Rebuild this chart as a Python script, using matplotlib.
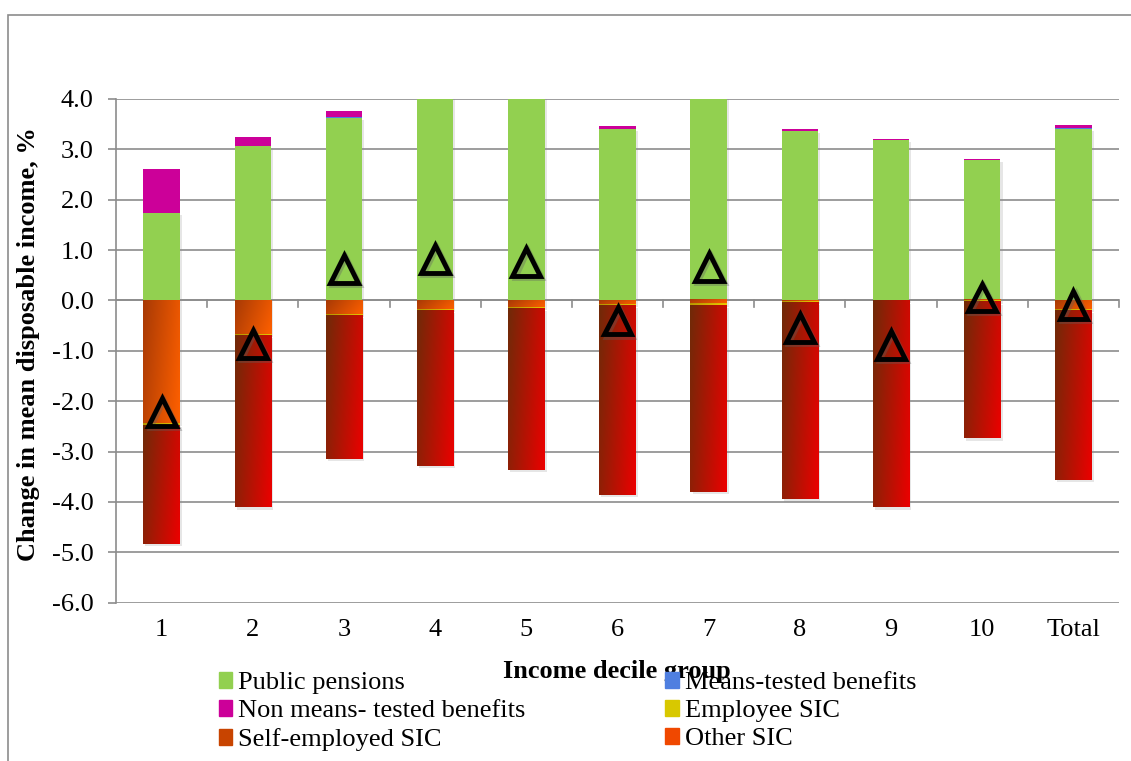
import numpy as np
import matplotlib
matplotlib.use('Agg')
import matplotlib.pyplot as plt
import matplotlib.patheffects as pe
from matplotlib.colors import LinearSegmentedColormap
from matplotlib.patches import Rectangle, Patch

plt.rcParams['font.family'] = ['Liberation Serif', 'DejaVu Serif']

groups = ['1', '2', '3', '4', '5', '6', '7', '8', '9', '10', 'Total']
public_pensions = [1.73, 3.07, 3.63, 4.08, 4.10, 3.41, 4.42, 3.37, 3.19, 2.79, 3.41]
means_tested = [0.01, 0.0, 0.01, 0.0, 0.0, 0.0, 0.0, 0.0, 0.0, 0.0, 0.01]
non_means_tested = [0.87, 0.18, 0.12, 0.03, 0.04, 0.06, 0.04, 0.04, 0.02, 0.02, 0.07]
self_employed_sic = [-2.46, -0.69, -0.28, -0.18, -0.15, -0.09, -0.08, -0.03, -0.01, -0.02, -0.18]
employee_sic = [-0.02, -0.02, -0.02, -0.02, -0.02, -0.02, -0.02, -0.01, -0.01, -0.02, -0.02]
other_sic = [-2.36, -3.40, -2.84, -3.08, -3.20, -3.76, -3.70, -3.91, -4.09, -2.70, -3.37]
net_change = [-2.22, -0.86, 0.63, 0.83, 0.77, -0.40, 0.66, -0.54, -0.89, 0.06, -0.09]

GREEN = '#92D050'
MAGENTA = '#CC0099'
BLUE = '#4F7FE0'
GRID = '#8C8C8C'


def gradient_fill(ax, bars, c0, c1):
    # excel style shaded fill, dark left -> bright right/bottom
    cmap = LinearSegmentedColormap.from_list('g', [c0, c1])
    uu, vv = np.meshgrid(np.linspace(0, 1, 40), np.linspace(0, 1, 80))
    grad = 0.75 * uu + 0.25 * vv
    for b in bars:
        x, y, w, h = b.get_x(), b.get_y(), b.get_width(), b.get_height()
        if abs(h) < 1e-9:
            continue
        ax.imshow(grad, extent=[x, x + w, min(y, y + h), max(y, y + h)],
                  cmap=cmap, vmin=0, vmax=1, aspect='auto',
                  interpolation='bilinear', zorder=2.5)
        b.set_facecolor('none')


fig = plt.figure(figsize=(11.31, 7.61), dpi=100)
ax = fig.add_axes([0.1026, 0.208, 0.8868, 0.662])

x = np.arange(len(groups))
w = 0.40
shadow = [pe.SimplePatchShadow(offset=(1.5, -1.5), shadow_rgbFace='#909090', alpha=0.22), pe.Normal()]

pos1 = np.array(public_pensions)
pos2 = pos1 + np.array(means_tested)
neg1 = np.array(self_employed_sic)
neg2 = neg1 + np.array(employee_sic)

ax.bar(x, public_pensions, w, color=GREEN, zorder=2, path_effects=shadow)
ax.bar(x, means_tested, w, bottom=pos1, color=BLUE, zorder=2)
ax.bar(x, non_means_tested, w, bottom=pos2, color=MAGENTA, zorder=2)
b_self = ax.bar(x, self_employed_sic, w, color='#D04A00', zorder=2, path_effects=shadow)
b_emp = ax.bar(x, employee_sic, w, bottom=neg1, color='#E0C000', zorder=2)
b_oth = ax.bar(x, other_sic, w, bottom=neg2, color='#C02000', zorder=2, path_effects=shadow)
gradient_fill(ax, b_self, '#A83A05', '#FF6000')
gradient_fill(ax, b_emp, '#B09000', '#F0D000')
gradient_fill(ax, b_oth, '#702A08', '#EC0000')

ax.plot(x, net_change, ls='none', marker='^', ms=20, mfc='none', mec='black',
        mew=3.5, zorder=5,
        path_effects=[pe.SimpleLineShadow(offset=(1.5, -1.5), shadow_color='#606060', alpha=0.35),
                      pe.Normal()])

ax.set_xlim(-0.5, len(groups) - 0.5)
ax.set_ylim(-6, 4)
ax.set_yticks(np.arange(-6, 4.1, 1))
ax.set_yticklabels(['%.1f' % v for v in np.arange(-6, 4.1, 1)])
ax.set_xticks(x)
ax.set_xticklabels(groups)
ax.grid(axis='y', color=GRID, lw=1.2, zorder=0)
ax.set_axisbelow(True)
for s in ['top', 'right', 'bottom']:
    ax.spines[s].set_visible(False)
ax.spines['left'].set_color(GRID)
ax.spines['left'].set_linewidth(1.2)
ax.tick_params(axis='y', colors=GRID, labelcolor='black', length=6, width=1.2,
               labelsize=19, pad=10)
ax.tick_params(axis='x', length=0, labelsize=19, pad=12)

# zero axis with category separator ticks
ax.axhline(0, color=GRID, lw=1.2, zorder=1)
for b in np.arange(-0.5, len(groups), 1)[1:]:
    ax.plot([b, b], [0, -0.14], color=GRID, lw=1.2, zorder=1, clip_on=False)

fig.text(29 / 1131, 0.548, 'Change in mean disposable income, %', rotation=90,
         ha='center', va='center', fontsize=19, fontweight='bold')
fig.text(0.5455, 0.117, 'Income decile group', ha='center', va='center',
         fontsize=19, fontweight='bold')

handles = [Patch(color=GREEN, label='Public pensions'),
           Patch(color=MAGENTA, label='Non means- tested benefits'),
           Patch(color='#C84400', label='Self-employed SIC'),
           Patch(color=BLUE, label='Means-tested benefits'),
           Patch(color='#D8C800', label='Employee SIC'),
           Patch(color='#F04800', label='Other SIC')]
fig.legend(handles=handles, ncol=2, loc='upper left', bbox_to_anchor=(0.1936, 0.117),
           frameon=False, fontsize=19, borderpad=0, borderaxespad=0,
           handlelength=0.5, handleheight=0.53, handletextpad=0.23,
           columnspacing=5.3, labelspacing=0.23)

fig.patches.append(Rectangle((8 / 1131, -0.2), 1.2, 1 - 15 / 761 + 0.2, transform=fig.transFigure,
                             fill=False, edgecolor=GRID, lw=1.2))

fig.savefig('out.png', dpi=100)
